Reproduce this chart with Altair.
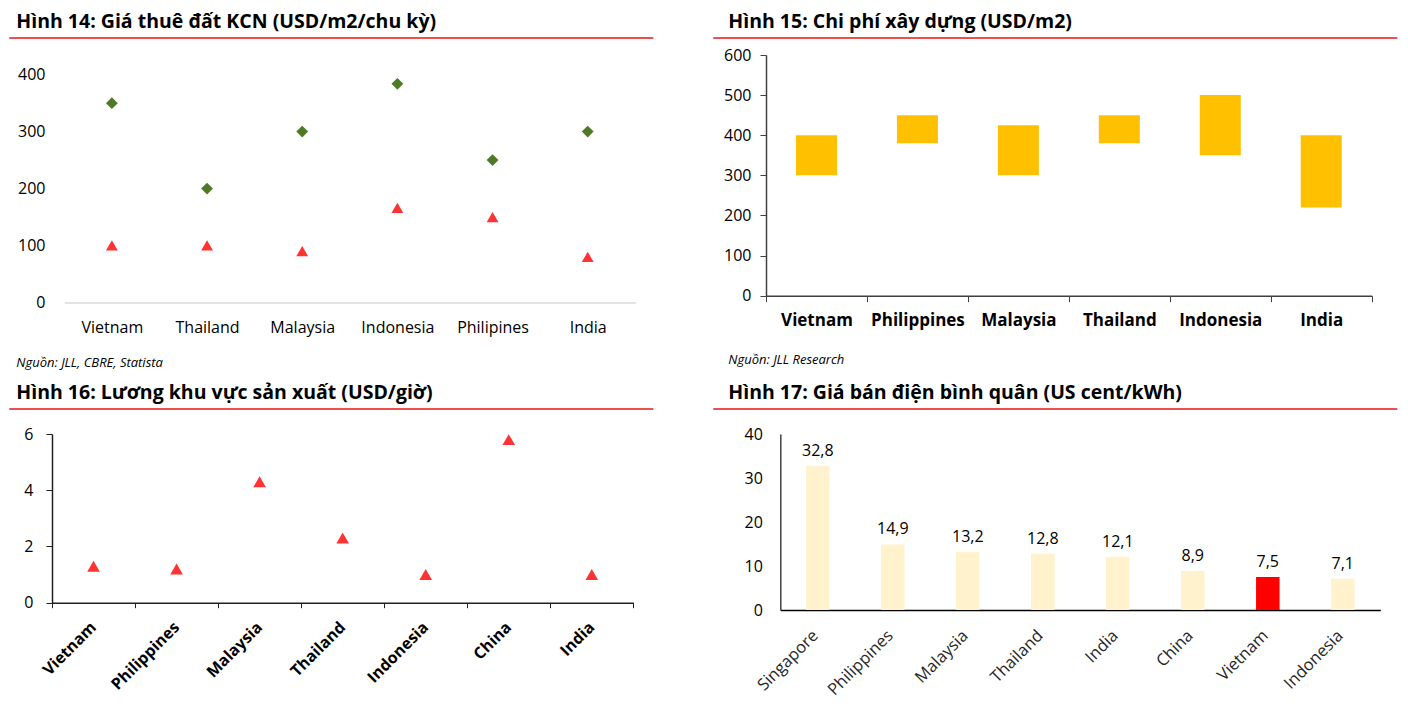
import altair as alt
import pandas as pd

FONT = "Open Sans"

# ---------------- data ----------------
# Hình 14
c14 = ["Vietnam", "Thailand", "Malaysia", "Indonesia", "Philipines", "India"]
rent_high = [350, 200, 300, 384, 250, 300]
rent_low = [100, 100, 90, 166, 150, 80]

# Hình 15
c15 = ["Vietnam", "Philippines", "Malaysia", "Thailand", "Indonesia", "India"]
cost_low = [300, 380, 300, 380, 350, 220]
cost_high = [400, 450, 425, 450, 500, 400]

# Hình 16
c16 = ["Vietnam", "Philippines", "Malaysia", "Thailand", "Indonesia", "China", "India"]
wage = [1.3, 1.2, 4.3, 2.3, 1.0, 5.8, 1.0]

# Hình 17
c17 = ["Singapore", "Philippines", "Malaysia", "Thailand", "India", "China", "Vietnam", "Indonesia"]
power = [32.8, 14.9, 13.2, 12.8, 12.1, 8.9, 7.5, 7.1]

titles = [
    "Hình 14: Giá thuê đất KCN (USD/m2/chu kỳ)",
    "Hình 15: Chi phí xây dựng (USD/m2)",
    "Hình 16: Lương khu vực sản xuất (USD/giờ)",
    "Hình 17: Giá bán điện bình quân (US cent/kWh)",
]
sources = ["Nguồn: JLL, CBRE, Statista", "Nguồn: JLL Research"]

RED_LINE = "#F04E4E"


def header(title, tx, ty, rx1, rx2, ry):
    hdr = alt.Chart(pd.DataFrame({"t": [title]})).mark_text(
        align="left", baseline="middle", font=FONT, fontWeight="bold",
        fontSize=19.5, color="#000000"
    ).encode(text="t:N", x=alt.value(tx), y=alt.value(ty))
    rule = alt.Chart(pd.DataFrame({"t": [0]})).mark_rule(
        color=RED_LINE, strokeWidth=2
    ).encode(x=alt.value(rx1), x2=alt.value(rx2), y=alt.value(ry))
    return [hdr, rule]


def source(txt, sx, sy):
    return alt.Chart(pd.DataFrame({"t": [txt]})).mark_text(
        align="left", baseline="middle", font=FONT, fontStyle="italic",
        fontSize=13, color="#000000"
    ).encode(text="t:N", x=alt.value(sx), y=alt.value(sy))


# ---------------- Hình 14 ----------------
df14 = pd.DataFrame({
    "country": c14 * 2,
    "v": rent_high + rent_low,
    "s": ["hi"] * len(c14) + ["lo"] * len(c14),
})
W14, H14 = 584, 247.4
pts14 = alt.Chart(df14).mark_point(filled=True, size=140, opacity=1).encode(
    x=alt.X("country:N", sort=c14,
            scale=alt.Scale(domain=c14, range=[12.3, 583.3], paddingInner=0, paddingOuter=0),
            axis=alt.Axis(title=None, labelAngle=0, ticks=False, tickSize=0,
                          domainColor="#D9D9D9", domainWidth=1.5, labelPadding=17,
                          labelFontSize=16, labelColor="#000000")),
    y=alt.Y("v:Q", scale=alt.Scale(domain=[0, 434.6], nice=False),
            axis=alt.Axis(title=None, values=[0, 100, 200, 300, 400], domain=False,
                          ticks=False, tickSize=0, grid=False, labelPadding=7,
                          labelFontSize=16, labelColor="#000000")),
    shape=alt.Shape("s:N", scale=alt.Scale(domain=["hi", "lo"], range=["diamond", "triangle-up"]), legend=None),
    color=alt.Color("s:N", scale=alt.Scale(domain=["hi", "lo"], range=["#4E7A27", "#FF3333"]), legend=None),
)
p14 = alt.layer(
    pts14,
    *header(titles[0], -35.7, -33.3, -42.7, 601.3, -17),
    source(sources[0], -35.7, 307.7),
).properties(width=W14, height=H14)

# ---------------- Hình 15 ----------------
df15 = pd.DataFrame({"country": c15, "lo": cost_low, "hi": cost_high})
W15, H15 = 605.7, 240.7
bars15 = alt.Chart(df15).mark_bar(size=41, color="#FFC000").encode(
    x=alt.X("country:N", sort=c15, scale=alt.Scale(paddingInner=0, paddingOuter=0),
            axis=alt.Axis(title=None, labelAngle=0, tickBand="extent", tickSize=6,
                          tickColor="#404040", domainColor="#404040", domainWidth=1.5,
                          labelPadding=11, labelFontSize=17, labelFontWeight="bold",
                          labelColor="#000000")),
    y=alt.Y("lo:Q", scale=alt.Scale(domain=[0, 600], nice=False),
            axis=alt.Axis(title=None, values=[0, 100, 200, 300, 400, 500, 600],
                          tickSize=6, tickColor="#404040", domainColor="#404040",
                          domainWidth=1.5, grid=False, labelPadding=9,
                          labelFontSize=16, labelColor="#000000")),
    y2="hi:Q",
)
p15 = alt.layer(
    bars15,
    *header(titles[1], -37.7, -33.3, -52.7, 631.3, -17),
    source(sources[1], -37.7, 304.7),
).properties(width=W15, height=H15)

# ---------------- Hình 16 ----------------
df16 = pd.DataFrame({"country": c16, "v": wage})
W16, H16 = 581.3, 168.7
pts16 = alt.Chart(df16).mark_point(filled=True, size=160, opacity=1, shape="triangle-up",
                                   color="#FF3333").encode(
    x=alt.X("country:N", sort=c16, scale=alt.Scale(paddingInner=0, paddingOuter=0),
            axis=alt.Axis(title=None, labelAngle=-45, tickBand="extent", tickSize=5,
                          tickColor="#202020", domainColor="#202020", domainWidth=1.5,
                          labelPadding=11, labelOffset=-6, labelFontSize=16,
                          labelFontWeight="bold", labelColor="#000000")),
    y=alt.Y("v:Q", scale=alt.Scale(domain=[0, 6], nice=False),
            axis=alt.Axis(title=None, values=[0, 2, 4, 6], tickSize=6, tickColor="#202020",
                          domainColor="#202020", domainWidth=1.5, grid=False,
                          labelPadding=13, labelFontSize=16, labelColor="#000000")),
)
p16 = alt.layer(
    pts16,
    *header(titles[2], -35.7, -41.5, -42.7, 601.3, -25),
).properties(width=W16, height=H16)

# ---------------- Hình 17 ----------------
df17 = pd.DataFrame({"country": c17, "v": power})
W17, H17 = 614.3, 176
x17 = alt.X("country:N", sort=c17,
            scale=alt.Scale(domain=c17, range=[14.3, 614.3], paddingInner=0, paddingOuter=0),
            axis=alt.Axis(title=None, labelAngle=-45, ticks=False, tickSize=0,
                          domainColor="#000000", domainWidth=1.5, labelPadding=17,
                          labelOffset=-8, labelFontSize=16.5, labelColor="#262626"))
bars17 = alt.Chart(df17).mark_bar(size=23.5).encode(
    x=x17,
    y=alt.Y("v:Q", scale=alt.Scale(domain=[0, 40], nice=False),
            axis=alt.Axis(title=None, values=[0, 10, 20, 30, 40], ticks=False, tickSize=0,
                          offset=-14.3, domainColor="#404040", domainWidth=1.5, grid=False,
                          labelPadding=18, labelFontSize=16, labelColor="#000000")),
    color=alt.condition(alt.datum.country == "Vietnam", alt.value("#FF0000"), alt.value("#FFF2CC")),
)
lab17 = alt.Chart(df17).transform_calculate(
    lab="replace(format(datum.v, '.1f'), '.', ',')"
).mark_text(baseline="bottom", dy=-7, fontSize=16, font=FONT, color="#000000").encode(
    x=x17, y="v:Q", text="lab:N"
)
p17 = alt.layer(
    bars17, lab17,
    *header(titles[3], -37.7, -41.5, -52.7, 631.3, -25),
).properties(width=W17, height=H17)

chart = alt.concat(
    p14, p15, p16, p17, columns=2,
    spacing=alt.RowColnumber(row=131, column=130),
    bounds="flush",
).properties(
    padding={"top": 3, "left": 0, "right": 0, "bottom": 0}, background="white"
).configure(font=FONT).configure_view(stroke=None).configure_axis(labelFont=FONT)

chart.save("out.html", embed_options={"renderer": "svg", "actions": False})
